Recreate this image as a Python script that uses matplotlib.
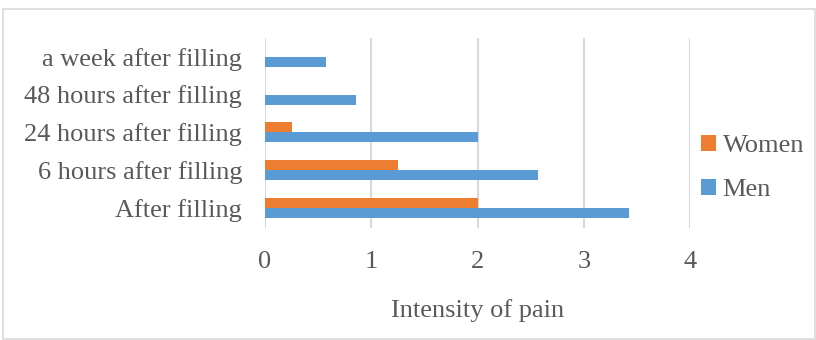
import matplotlib.pyplot as plt
import numpy as np
from matplotlib.patches import Rectangle

categories = ["After filling", "6 hours after filling", "24 hours after filling",
              "48 hours after filling", "a week after filling"]
men = [3.43, 2.57, 2.0, 0.86, 0.57]
women = [2.0, 1.25, 0.25, 0.0, 0.0]
x_ticks = [0, 1, 2, 3, 4]

plt.rcParams['font.family'] = ['Liberation Serif', 'DejaVu Serif']
text_color = "#595959"
blue = "#5B9BD5"
orange = "#ED7D31"
fs = 19

fig = plt.figure(figsize=(8.16, 3.4), dpi=100)
ax = fig.add_axes([265/816, 1 - 228/340, (690-265)/816, (228-38)/340])

y = np.arange(len(categories))
h = 0.264
ax.barh(y - h/2, men, height=h, color=blue, label="Men", zorder=3)
ax.barh(y + h/2, women, height=h, color=orange, label="Women", zorder=3)

ax.set_xlim(0, 4)
ax.set_ylim(-0.52, 4.49)
ax.set_xticks(x_ticks)
ax.set_yticks(y)
ax.set_yticklabels(categories)
ax.tick_params(axis='both', length=0, colors=text_color, labelsize=fs)
ax.tick_params(axis='x', pad=16.6)
ax.tick_params(axis='y', pad=16.5)
ax.grid(axis='x', color="#D9D9D9", linewidth=1.5, zorder=0)
for s in ax.spines.values():
    s.set_visible(False)
ax.set_xlabel("Intensity of pain", fontsize=fs, color=text_color, labelpad=18.5)

handles, labels = ax.get_legend_handles_labels()
leg = fig.legend(handles[::-1], labels[::-1], loc='center left',
                 bbox_to_anchor=(701/816, 1 - 168/340), frameon=False,
                 fontsize=fs, handlelength=0.55, handleheight=0.55,
                 handletextpad=0.27, labelspacing=0.83, borderpad=0,
                 borderaxespad=0)
for t in leg.get_texts():
    t.set_color(text_color)

fig.patches.append(Rectangle((3/816, 0.002), 1 - 4/816, 1 - 9/340 - 0.002,
                             transform=fig.transFigure, fill=False,
                             edgecolor="#D9D9D9", linewidth=1.2))

fig.savefig("out.png", dpi=100, facecolor="white")
